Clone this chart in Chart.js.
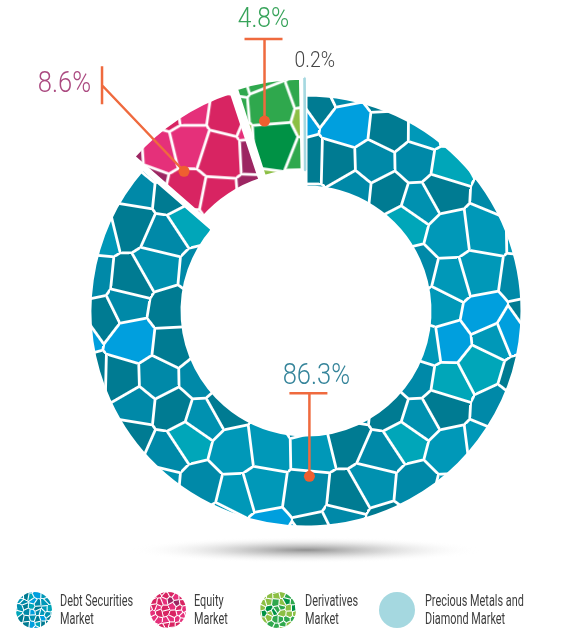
<!DOCTYPE html>
<html>
<head>
<meta charset="utf-8">
<script src="https://cdn.jsdelivr.net/npm/chart.js@4.4.1/dist/chart.umd.min.js"></script>
<style>
  html, body { margin: 0; padding: 0; background: #fff; }
  #wrap { position: relative; width: 588px; height: 637px; overflow: hidden; }
  #legend .swatch { position: absolute; top: 592px; width: 36px; height: 36px; }
  #legend .label {
    position: absolute; top: 592px; white-space: nowrap;
    font-family: Roboto, "DejaVu Sans Condensed", sans-serif; font-size: 16px; line-height: 18px;
    color: #3d3d3d; transform: scaleX(0.68); transform-origin: left top;
  }
</style>
</head>
<body>
<div id="wrap">
  <canvas id="shareChart" width="588" height="637"></canvas>
  <div id="legend"></div>
</div>
<script>
const categories = ['Debt Securities Market', 'Equity Market', 'Derivatives Market', 'Precious Metals and Diamond Market'];
const legendLines = [['Debt Securities', 'Market'], ['Equity', 'Market'], ['Derivatives', 'Market'], ['Precious Metals and', 'Diamond Market']];
const shares = [86.3, 8.6, 4.8, 0.2];
const shareLabels = ['86.3%', '8.6%', '4.8%', '0.2%'];

// colour sets for the mosaic fill of each slice
const palettes = [
  ['#0089a8', '#0089a8', '#007b92', '#007b92', '#0098b8', '#00a6b9', '#009fde', '#0091b0'],
  ['#e5307a', '#e5307a', '#d82462', '#d82462', '#9c2662'],
  ['#2fa84d', '#2fa84d', '#8cbf44', '#8cbf44', '#009245'],
  ['#a5d8e0']
];

// small seeded generator, only used to jitter the mosaic texture
function mulberry32(a) {
  return function () {
    a |= 0; a = a + 0x6D2B79F5 | 0;
    let t = Math.imul(a ^ a >>> 15, 1 | a);
    t = t + Math.imul(t ^ t >>> 7, 61 | t) ^ t;
    return ((t ^ t >>> 14) >>> 0) / 4294967296;
  };
}

function hexToRgb(h) {
  const n = parseInt(h.slice(1), 16);
  return [n >> 16 & 255, n >> 8 & 255, n & 255];
}

// voronoi-like tile, wraps on both axes so it repeats cleanly
function makeMosaic(palette, cell, seed, line) {
  const n = 6, size = n * cell;
  const rnd = mulberry32(seed);
  const pts = [];
  for (let i = 0; i < n; i++) {
    for (let j = 0; j < n; j++) {
      pts.push({
        x: (i + 0.5 + (rnd() - 0.5) * 0.75) * cell,
        y: (j + 0.5 + (rnd() - 0.5) * 0.75) * cell,
        c: hexToRgb(palette[Math.floor(rnd() * palette.length)])
      });
    }
  }
  const cv = document.createElement('canvas');
  cv.width = cv.height = size;
  const cx = cv.getContext('2d');
  const img = cx.createImageData(size, size);
  const half = size / 2;
  for (let y = 0; y < size; y++) {
    for (let x = 0; x < size; x++) {
      let d1 = Infinity, d2 = Infinity, a = null, v1 = null, v2 = null;
      for (const p of pts) {
        let dx = p.x - x, dy = p.y - y;
        if (dx > half) dx -= size; else if (dx < -half) dx += size;
        if (dy > half) dy -= size; else if (dy < -half) dy += size;
        const d = dx * dx + dy * dy;
        if (d < d1) { d2 = d1; v2 = v1; d1 = d; a = p; v1 = [dx, dy]; }
        else if (d < d2) { d2 = d; v2 = [dx, dy]; }
      }
      const sep = Math.hypot(v2[0] - v1[0], v2[1] - v1[1]) || 1;
      const dist = (d2 - d1) / (2 * sep);
      const w = Math.min(1, Math.max(0, line / 2 + 0.5 - dist));
      const k = (y * size + x) * 4;
      img.data[k] = a.c[0] + (255 - a.c[0]) * w;
      img.data[k + 1] = a.c[1] + (255 - a.c[1]) * w;
      img.data[k + 2] = a.c[2] + (255 - a.c[2]) * w;
      img.data[k + 3] = 255;
    }
  }
  cx.putImageData(img, 0, 0);
  return cv;
}

const ctx = document.getElementById('shareChart').getContext('2d');
const fills = palettes.map((p, i) => p.length > 1 ? ctx.createPattern(makeMosaic(p, 36, 11 + i * 7, 2.8), 'repeat') : p[0]);

// callout lines: where the dot sits inside the slice, and where the label goes from it
const callouts = [
  { along: 0.575, depth: 0.45, end: [0, -83], bar: 'h', barFrom: -20, barTo: 18, text: [7, -92], align: 'center', color: '#35849a', size: 29 },
  { along: 0.24, depth: 0.5, end: [-82, -86], bar: 'v', barFrom: -19, barTo: 19, text: [-93, -79], align: 'right', color: '#ab4a80', size: 29 },
  { along: 0.32, depth: 0.58, end: [0, -82], bar: 'h', barFrom: -20, barTo: 18, text: [-1, -94], align: 'center', color: '#37a35a', size: 28 },
  { along: 0.5, depth: 1, end: null, text: [-10, -11], align: 'left', color: '#444444', size: 22 }
];

const shadowPlugin = {
  id: 'floorShadow',
  beforeDatasetsDraw(chart) {
    const arc = chart.getDatasetMeta(0).data[0];
    const c = chart.ctx;
    c.save();
    c.translate(arc.x, arc.y + arc.outerRadius + 23);
    c.scale(1, 0.075);
    const g = c.createRadialGradient(0, 0, 0, 0, 0, 175);
    g.addColorStop(0, 'rgba(70,70,70,0.6)');
    g.addColorStop(0.45, 'rgba(120,120,120,0.28)');
    g.addColorStop(1, 'rgba(255,255,255,0)');
    c.fillStyle = g;
    c.beginPath();
    c.arc(0, 0, 175, 0, Math.PI * 2);
    c.fill();
    c.restore();
  }
};

const calloutPlugin = {
  id: 'callouts',
  afterDatasetsDraw(chart) {
    const c = chart.ctx;
    chart.getDatasetMeta(0).data.forEach((arc, i) => {
      const o = callouts[i];
      const p = arc.getProps(['x', 'y', 'startAngle', 'endAngle', 'innerRadius', 'outerRadius', 'circumference']);
      const off = (arc.options.offset || 0) / 4;
      const fix = 1 - Math.sin(Math.min(Math.PI, p.circumference || 0));
      const mid = (p.startAngle + p.endAngle) / 2;
      const a = p.startAngle + o.along * (p.endAngle - p.startAngle);
      const r = p.innerRadius + o.depth * (p.outerRadius - p.innerRadius) + off * fix;
      const px = p.x + Math.cos(mid) * off + Math.cos(a) * r;
      const py = p.y + Math.sin(mid) * off + Math.sin(a) * r;

      c.save();
      if (o.end) {
        c.strokeStyle = '#ef6a3e';
        c.lineWidth = 2.5;
        c.beginPath();
        c.moveTo(px, py);
        c.lineTo(px + o.end[0], py + o.end[1]);
        if (o.bar === 'h') {
          c.moveTo(px + o.end[0] + o.barFrom, py + o.end[1]);
          c.lineTo(px + o.end[0] + o.barTo, py + o.end[1]);
        } else {
          c.moveTo(px + o.end[0], py + o.end[1] + o.barFrom);
          c.lineTo(px + o.end[0], py + o.end[1] + o.barTo);
        }
        c.stroke();
        c.fillStyle = '#ef5f30';
        c.beginPath();
        c.arc(px, py, 5.5, 0, Math.PI * 2);
        c.fill();
      }
      c.translate(px + o.text[0], py + o.text[1]);
      c.scale(0.88, 1);
      c.font = '300 ' + o.size + 'px Roboto, "DejaVu Sans", sans-serif';
      c.fillStyle = o.color;
      c.textAlign = o.align;
      c.textBaseline = 'alphabetic';
      c.fillText(shareLabels[i], 0, 0);
      c.restore();
    });
  }
};

new Chart(ctx, {
  type: 'doughnut',
  data: {
    labels: categories,
    datasets: [{
      data: shares,
      backgroundColor: fills,
      borderColor: ['#ffffff', '#ffffff', '#ffffff', '#a5d8e0'],
      borderWidth: [3, 3, 3, 2.5],
      offset: [0, 42, 40, 34],
      hoverOffset: 0
    }]
  },
  options: {
    responsive: false,
    animation: false,
    radius: 216,
    cutout: '57.4%',
    layout: { padding: { left: 24, right: 0, top: 0, bottom: 15 } },
    plugins: {
      legend: { display: false },
      tooltip: { enabled: false }
    }
  },
  plugins: [shadowPlugin, calloutPlugin]
});

// legend under the chart, with small mosaic swatches
const legend = document.getElementById('legend');
const swatchX = [16, 150, 260, 379];
const labelX = [60, 194, 305, 425];
categories.forEach((name, i) => {
  const sw = document.createElement('canvas');
  sw.className = 'swatch';
  sw.width = sw.height = 36;
  sw.style.left = swatchX[i] + 'px';
  const sc = sw.getContext('2d');
  sc.beginPath();
  sc.arc(18, 18, 18, 0, Math.PI * 2);
  sc.clip();
  sc.fillStyle = palettes[i].length > 1 ? sc.createPattern(makeMosaic(palettes[i], 6, 5 + i * 3, 1.1), 'repeat') : palettes[i][0];
  sc.fillRect(0, 0, 36, 36);
  legend.appendChild(sw);

  const lb = document.createElement('div');
  lb.className = 'label';
  lb.style.left = labelX[i] + 'px';
  lb.title = name;
  lb.innerHTML = legendLines[i].join('<br>');
  legend.appendChild(lb);
});
</script>
</body>
</html>
